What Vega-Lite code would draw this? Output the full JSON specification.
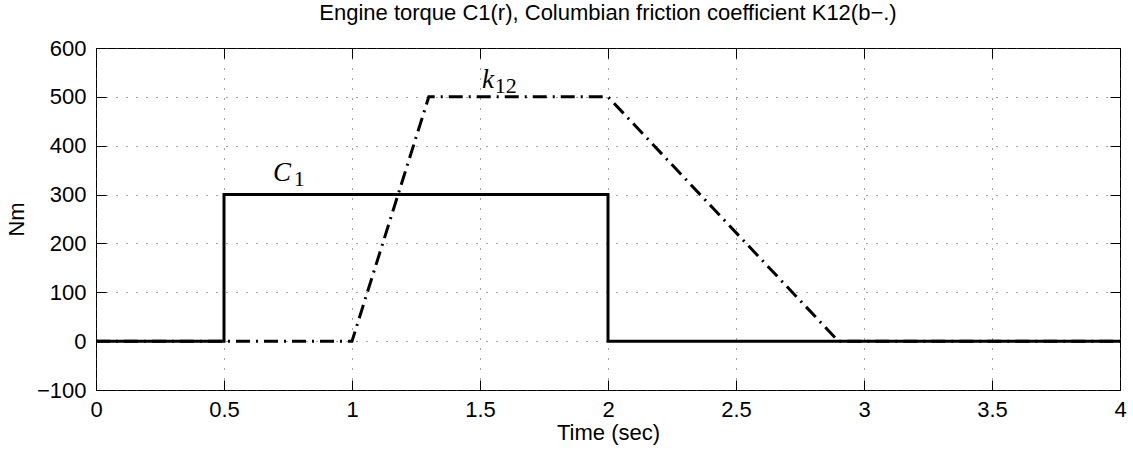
{
  "$schema": "https://vega.github.io/schema/vega-lite/v6.json",
  "width": 1024,
  "height": 342,
  "autosize": {"type": "none"},
  "padding": {"left": 96, "top": 48, "right": 13, "bottom": 61},
  "background": "white",
  "config": {
    "view": {"stroke": "#000", "strokeWidth": 1},
    "font": "Liberation Sans",
    "axis": {
      "labelFont": "Liberation Sans",
      "labelFontSize": 22,
      "labelColor": "#000",
      "titleFont": "Liberation Sans",
      "titleFontSize": 22,
      "titleFontWeight": "normal",
      "titleColor": "#000",
      "domain": false,
      "tickColor": "#000",
      "tickWidth": 1,
      "gridColor": "#444",
      "gridDash": [1, 9],
      "gridWidth": 1,
      "gridOpacity": 1
    }
  },
  "title": {
    "text": "Engine torque C1(r), Columbian friction coefficient K12(b−.)",
    "fontSize": 22,
    "fontWeight": "normal",
    "font": "Liberation Sans",
    "color": "#000",
    "anchor": "middle",
    "offset": 12
  },
  "layer": [
    {
      "data": {"values": [
        {"i": 0, "t": 0, "v": 0},
        {"i": 1, "t": 0.5, "v": 0},
        {"i": 2, "t": 0.5, "v": 300},
        {"i": 3, "t": 2, "v": 300},
        {"i": 4, "t": 2, "v": 0},
        {"i": 5, "t": 4, "v": 0}
      ]},
      "mark": {"type": "line", "color": "#000", "strokeWidth": 3, "strokeJoin": "miter", "clip": true},
      "encoding": {
        "x": {"field": "t", "type": "quantitative", "scale": {"domain": [0, 4], "nice": false, "zero": false},
          "axis": {"orient": "bottom", "values": [0, 0.5, 1, 1.5, 2, 2.5, 3, 3.5, 4], "format": "~g", "title": "Time (sec)", "grid": true, "tickSize": -10, "labelPadding": 19, "titlePadding": 2, "labelFlush": false}},
        "y": {"field": "v", "type": "quantitative", "scale": {"domain": [-100, 600], "nice": false, "zero": false},
          "axis": {"orient": "left", "values": [-100, 0, 100, 200, 300, 400, 500, 600], "title": "Nm", "grid": true, "tickSize": -10, "labelPadding": 20, "titlePadding": 8, "labelFlush": false}},
        "order": {"field": "i", "type": "quantitative"}
      }
    },
    {
      "data": {"values": [
        {"i": 0, "t": 0, "v": 0},
        {"i": 1, "t": 1, "v": 0},
        {"i": 2, "t": 1.3, "v": 500},
        {"i": 3, "t": 2, "v": 500},
        {"i": 4, "t": 2.9, "v": 0},
        {"i": 5, "t": 4, "v": 0}
      ]},
      "mark": {"type": "line", "color": "#000", "strokeWidth": 3, "strokeDash": [14, 6, 2, 6], "clip": true},
      "encoding": {
        "x": {"field": "t", "type": "quantitative",
          "axis": {"orient": "top", "values": [0, 0.5, 1, 1.5, 2, 2.5, 3, 3.5, 4], "title": null, "labels": false, "grid": false, "tickSize": -10}},
        "y": {"field": "v", "type": "quantitative",
          "axis": {"orient": "right", "values": [-100, 0, 100, 200, 300, 400, 500, 600], "title": null, "labels": false, "grid": false, "tickSize": -10}},
        "order": {"field": "i", "type": "quantitative"}
      }
    },
    {
      "data": {"values": [
        {"t": 0.691, "v": 328, "label": "C"},
        {"t": 1.508, "v": 518, "label": "k"}
      ]},
      "mark": {"type": "text", "font": "Liberation Serif", "fontStyle": "italic", "fontSize": 27, "align": "left", "baseline": "alphabetic", "color": "#000"},
      "encoding": {
        "x": {"field": "t", "type": "quantitative", "axis": null},
        "y": {"field": "v", "type": "quantitative", "axis": null},
        "text": {"field": "label"}
      }
    },
    {
      "data": {"values": [
        {"t": 0.772, "v": 317, "label": "1"},
        {"t": 1.558, "v": 508, "label": "12"}
      ]},
      "mark": {"type": "text", "font": "Liberation Serif", "fontSize": 22, "align": "left", "baseline": "alphabetic", "color": "#000"},
      "encoding": {
        "x": {"field": "t", "type": "quantitative", "axis": null},
        "y": {"field": "v", "type": "quantitative", "axis": null},
        "text": {"field": "label"}
      }
    }
  ],
  "resolve": {"axis": {"x": "independent", "y": "independent"}}
}
